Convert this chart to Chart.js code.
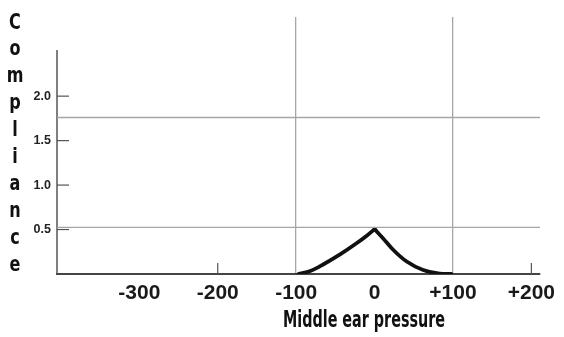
<!DOCTYPE html>
<html>
<head>
<meta charset="utf-8">
<script src="https://cdn.jsdelivr.net/npm/chart.js@4.4.1/dist/chart.umd.min.js"></script>
<style>
  html, body { margin: 0; padding: 0; background: #fff; }
  #wrap { position: relative; width: 564px; height: 337px; overflow: hidden; }
  canvas { position: absolute; left: 0; top: 0; }
  .ttl { position: absolute; font-family: "DejaVu Sans", "Liberation Sans", sans-serif; font-stretch: condensed; font-weight: bold; color: #111; }
  #ytitle { left: 5px; top: 8.5px; width: 20px; text-align: center; font-size: 21px; line-height: 26.9px; }
  #ytitle div { transform: scaleX(0.85); }
  #xtitle { left: 283px; top: 306px; font-size: 23px; line-height: 26px; white-space: nowrap; transform-origin: 0 0; }
</style>
</head>
<body>
<div id="wrap">
  <canvas id="c" width="564" height="337"></canvas>
  <div id="ytitle" class="ttl"></div>
  <div id="xtitle" class="ttl"></div>
</div>
<script>
// ---- data ----
const pressureLeft    = [-97, -82, -65, -44, -23, -10, 0];
const complianceLeft  = [0, 0.034, 0.11, 0.22, 0.345, 0.43, 0.505];
const pressureRight   = [0, 11, 24, 41, 62, 83, 98];
const complianceRight = [0.505, 0.40, 0.27, 0.14, 0.045, 0.005, 0];
const xTickValues = [-300, -200, -100, 0, 100, 200];
const yTickValues = [0.5, 1.0, 1.5, 2.0];
const xGridValues = [-100, 100];
const refLineValues = [1.76, 0.525];
const xInnerTickValues = [-200, 200];
const xTitle = "Middle ear pressure";
const yTitle = "Compliance";

const X_MIN = -405, X_MAX = 211, Y_MIN = 0, Y_MAX = 2.89, Y_AXIS_TOP = 2.52;

const xt = document.getElementById('xtitle');
xt.textContent = xTitle;
const w = xt.getBoundingClientRect().width;
xt.style.transform = 'scaleX(' + (162 / w) + ')';
document.getElementById('ytitle').innerHTML = yTitle.split('').map(ch => '<div>' + ch + '</div>').join('');

function pts(xs, ys) { return xs.map((x, i) => ({ x: x, y: ys[i] })); }

const datasets = [];
refLineValues.forEach(v => {
  datasets.push({
    data: [{ x: X_MIN, y: v }, { x: X_MAX, y: v }],
    borderColor: '#a6a6a6', borderWidth: 1.3, pointRadius: 0, tension: 0
  });
});
datasets.push({ data: pts(pressureLeft, complianceLeft), borderColor: '#111', borderWidth: 3.8, pointRadius: 0, cubicInterpolationMode: 'monotone', borderCapStyle: 'round' });
datasets.push({ data: pts(pressureRight, complianceRight), borderColor: '#111', borderWidth: 3.8, pointRadius: 0, cubicInterpolationMode: 'monotone', borderCapStyle: 'round' });

const axisDecor = {
  id: 'axisDecor',
  beforeDatasetsDraw(chart) {
    const { ctx, scales: { x, y } } = chart;
    ctx.save();
    ctx.strokeStyle = '#555';
    ctx.lineWidth = 1.5;
    const x0 = x.getPixelForValue(X_MIN);
    ctx.beginPath();
    ctx.moveTo(x0, y.getPixelForValue(Y_MIN));
    ctx.lineTo(x0, y.getPixelForValue(Y_AXIS_TOP));
    ctx.stroke();
    ctx.lineWidth = 1.2;
    yTickValues.forEach(v => {
      const py = y.getPixelForValue(v);
      ctx.beginPath(); ctx.moveTo(x0, py); ctx.lineTo(x0 + 12, py); ctx.stroke();
    });
    const yb = y.getPixelForValue(Y_MIN);
    xInnerTickValues.forEach(v => {
      const px = x.getPixelForValue(v);
      ctx.beginPath(); ctx.moveTo(px, yb); ctx.lineTo(px, yb - 11); ctx.stroke();
    });
    ctx.restore();
  }
};

new Chart(document.getElementById('c'), {
  type: 'line',
  data: { datasets: datasets },
  plugins: [axisDecor],
  options: {
    responsive: false,
    devicePixelRatio: 1,
    animation: false,
    layout: { padding: { left: 0, right: 24, top: 17, bottom: 0 } },
    plugins: { legend: { display: false }, tooltip: { enabled: false } },
    scales: {
      x: {
        type: 'linear', min: X_MIN, max: X_MAX,
        afterFit(s) { s.height = 63; },
        afterBuildTicks(s) { s.ticks = xTickValues.map(v => ({ value: v })); },
        grid: {
          drawTicks: false,
          color: ctx => (ctx.tick && xGridValues.includes(ctx.tick.value)) ? '#a6a6a6' : 'rgba(0,0,0,0)',
          lineWidth: 1.3
        },
        border: { display: true, color: '#444', width: 2 },
        ticks: {
          padding: 7, color: '#1a1a1a', maxRotation: 0, autoSkip: false,
          font: { family: 'Liberation Sans, Arial, sans-serif', size: 21, weight: 'bold' },
          callback: v => v > 0 ? '+' + v : String(v)
        }
      },
      y: {
        type: 'linear', min: Y_MIN, max: Y_MAX,
        afterFit(s) { s.width = 57; },
        afterBuildTicks(s) { s.ticks = yTickValues.map(v => ({ value: v })); },
        grid: { display: false, drawTicks: false },
        border: { display: false },
        ticks: {
          padding: 6, color: '#222', autoSkip: false,
          font: { family: 'Liberation Sans, Arial, sans-serif', size: 12.5, weight: 'bold' },
          callback: v => Number(v).toFixed(1)
        }
      }
    }
  }
});
</script>
</body>
</html>
